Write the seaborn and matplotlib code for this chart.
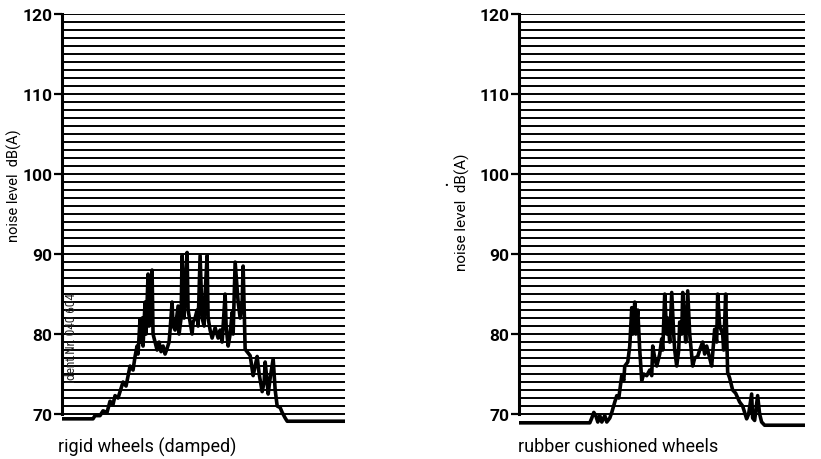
import numpy as np
import pandas as pd
import seaborn as sns
import matplotlib.pyplot as plt

# noise trace during pass-by, time in arbitrary units (0.1 s per step of the recorder)
rigid_t = [0, 3.1, 3.3, 3.8, 4.1, 4.5, 4.8, 5.1, 5.3, 5.6, 6.1, 6.4, 6.8, 7.1, 7.3, 7.5,
           7.6, 7.8, 7.9, 8.0, 8.1, 8.3, 8.4, 8.6, 8.7, 8.8, 9.0, 9.1, 9.3, 9.5, 9.7,
           9.9, 10.1, 10.3, 10.5, 10.7, 10.8, 11.0, 11.1, 11.3, 11.6, 11.7, 11.9, 12.0,
           12.2, 12.3, 12.5, 12.6, 12.8, 13.0, 13.1, 13.3, 13.5, 13.6, 13.8, 14.0,
           14.2, 14.3, 14.5, 14.6, 14.8, 15.0, 15.3, 15.6, 15.8, 16.0, 16.3, 16.4,
           16.6, 16.8, 17.0, 17.1, 17.3, 17.6, 17.8, 18.0, 18.1, 18.3, 18.8, 19.1,
           19.3, 19.5, 19.7, 20.0, 20.2, 20.3, 20.5, 20.6, 20.8, 21.1, 21.3, 21.5,
           21.8, 22.0, 22.3, 22.5, 28.3]
rigid_db = [69.4, 69.4, 69.8, 69.8, 70.4, 70.2, 71.6, 71.2, 72.3, 72.0, 74.0, 73.5, 76.0,
            75.5, 77.2, 78.5, 77.5, 81.9, 79.0, 82.0, 78.5, 84.0, 80.0, 87.5, 81.0,
            82.0, 88.0, 80.0, 79.0, 78.0, 79.0, 77.8, 78.5, 77.5, 78.2, 79.0, 80.5,
            84.0, 81.0, 80.5, 83.5, 80.0, 82.0, 89.8, 82.0, 86.0, 90.2, 83.0, 81.5,
            80.0, 81.5, 82.0, 83.0, 81.0, 89.8, 82.0, 81.0, 85.0, 89.8, 82.0, 80.5,
            79.5, 80.8, 79.5, 80.5, 79.0, 85.0, 81.0, 78.5, 80.0, 82.7, 80.0, 89.0,
            84.0, 82.0, 84.0, 88.5, 78.1, 77.3, 74.8, 76.0, 77.2, 75.0, 72.8, 74.0,
            76.5, 74.0, 72.5, 74.5, 76.9, 73.0, 71.0, 70.8, 70.2, 69.5, 69.1, 69.1]

rubber_t = [0, 7.1, 7.3, 7.5, 7.7, 7.9, 8.1, 8.3, 8.6, 8.8, 9.1, 9.3, 9.6, 9.8, 10.0,
            10.3, 10.5, 10.6, 10.9, 11.1, 11.3, 11.4, 11.6, 11.7, 11.9, 12.1, 12.3,
            12.5, 12.8, 13.1, 13.3, 13.4, 13.6, 13.8, 14.1, 14.3, 14.4, 14.6, 14.8,
            14.9, 15.1, 15.3, 15.5, 15.6, 15.8, 16.0, 16.1, 16.3, 16.4, 16.6, 16.7,
            16.9, 17.1, 17.4, 17.6, 17.9, 18.1, 18.4, 18.6, 18.8, 19.1, 19.3, 19.6,
            19.8, 19.9, 20.1, 20.4, 20.5, 20.7, 20.8, 20.9, 21.1, 21.4, 21.7, 22.1,
            22.4, 22.8, 23.0, 23.3, 23.4, 23.6, 23.9, 24.1, 24.3, 24.6, 28.6]
rubber_db = [68.9, 68.9, 69.5, 70.2, 69.8, 69.0, 69.8, 69.0, 69.8, 69.0, 69.5, 70.2,
             71.5, 72.3, 72.0, 74.8, 74.2, 76.0, 76.5, 78.5, 83.3, 80.0, 84.0, 80.0,
             83.0, 78.0, 74.2, 75.0, 74.8, 75.5, 74.8, 78.5, 77.0, 76.0, 77.5, 79.4,
             78.0, 85.0, 80.0, 82.0, 79.0, 85.2, 80.0, 78.0, 76.0, 78.0, 81.5, 80.0,
             85.2, 81.0, 79.0, 85.4, 80.0, 76.0, 77.0, 77.2, 78.0, 79.0, 77.5, 78.5,
             77.0, 76.0, 80.6, 79.0, 85.0, 81.0, 80.0, 78.0, 85.0, 80.0, 75.2, 74.5,
             73.0, 72.6, 71.5, 71.0, 69.4, 70.0, 72.5, 69.5, 69.2, 72.3, 70.0, 69.0,
             68.6, 68.6]

panel_titles = ['rigid wheels (damped)', 'rubber cushioned wheels']
y_ticks = [70, 80, 90, 100, 110, 120]
grid_levels = np.arange(70, 121)   # recorder paper: one line per dB

sns.set_style('ticks')
plt.rcParams['font.family'] = ['Roboto', 'DejaVu Sans']
plt.rcParams['text.color'] = 'black'
plt.rcParams['axes.labelcolor'] = 'black'
plt.rcParams['ytick.color'] = 'black'
plt.rcParams['axes.edgecolor'] = 'black'

fig = plt.figure(figsize=(8.21, 4.6), dpi=100)
ax1 = fig.add_axes([0.0755, 0.063, 0.345, 0.904])
ax2 = fig.add_axes([0.632, 0.063, 0.348, 0.904])

traces = [(rigid_t, rigid_db), (rubber_t, rubber_db)]
# ylabel placement differs a bit between the two scanned sheets
lab_pos = [(-0.141, 0.59, 10.5), (-0.17, 0.526, 11)]
for ax, (t, db), (lx, ly, lfs) in zip([ax1, ax2], traces, lab_pos):
    ax.hlines(grid_levels, 0, t[-1], color='black', linewidth=1.4, zorder=1)
    df = pd.DataFrame({'t': t, 'db': db})
    sns.lineplot(data=df, x='t', y='db', ax=ax, color='black', linewidth=2.6,
                 estimator=None, sort=False, zorder=3)
    ax.set_xlim(0, t[-1])
    ax.set_ylim(68, 120)
    ax.set_yticks(y_ticks)
    ax.tick_params(axis='y', which='major', length=6, width=1.6, labelsize=12.5,
                   direction='out', pad=1, colors='black')
    for lbl in ax.get_yticklabels():
        lbl.set_fontweight('bold')
    ax.set_xticks([])
    ax.set_xlabel('')
    ax.set_ylabel('noise level  dB(A)', fontsize=lfs)
    ax.yaxis.set_label_coords(lx, ly)
    for s in ['top', 'right', 'bottom']:
        ax.spines[s].set_visible(False)
    ax.spines['left'].set_bounds(70, 120)
    ax.spines['left'].set_linewidth(2.2)

fig.text(0.071, 0.028, panel_titles[0], fontsize=13, va='center')
fig.text(0.631, 0.028, panel_titles[1], fontsize=13, va='center')
ax1.text(0.035, 0.224, 'Ident.Nr. 040 604', transform=ax1.transAxes, rotation=90,
         fontsize=8.5, va='center', ha='center', color='#222222', zorder=4)
fig.text(0.543, 0.595, '•', fontsize=8, ha='center', va='center')

fig.savefig('out.png', dpi=100, facecolor='white')
